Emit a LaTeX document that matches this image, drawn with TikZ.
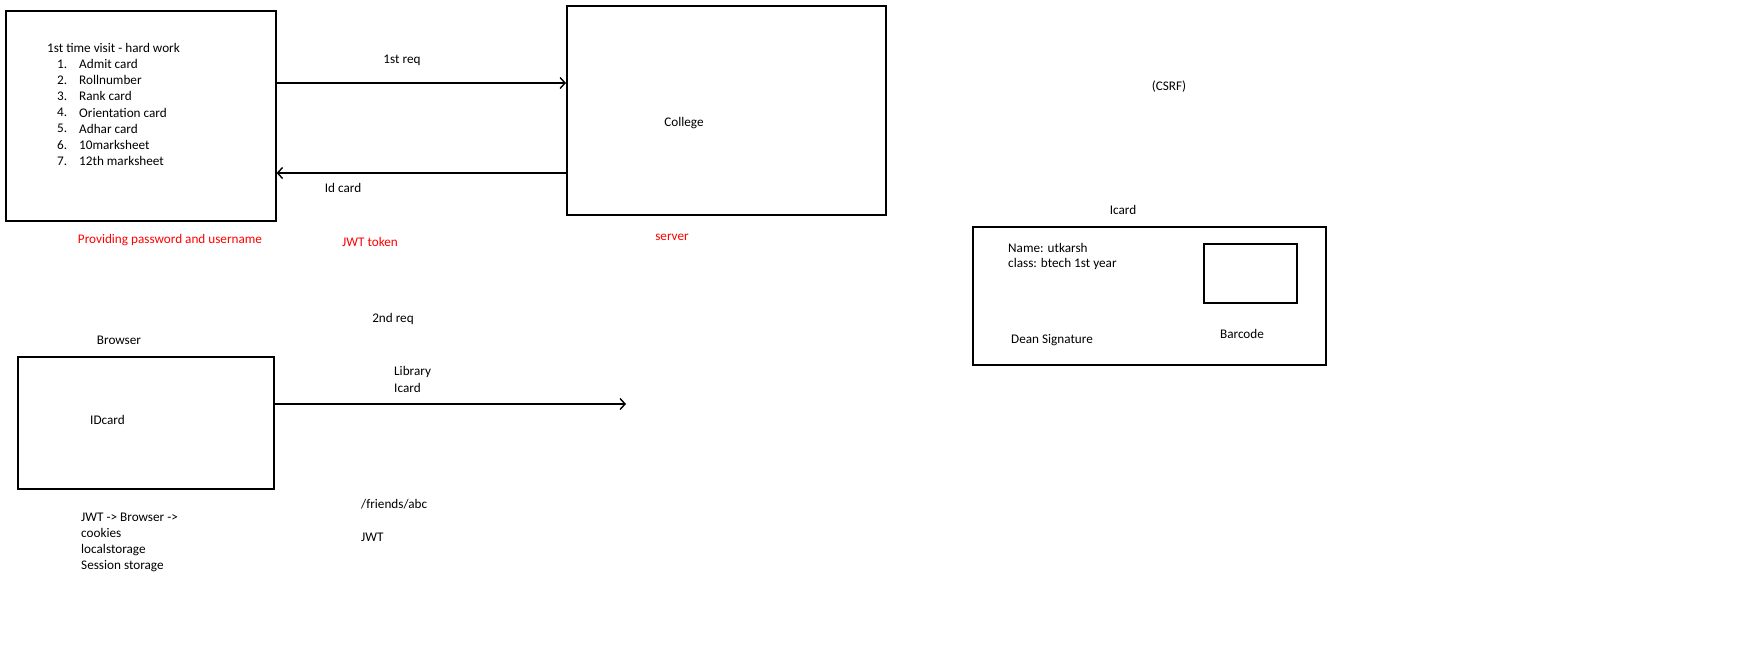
\documentclass[tikz,border=0pt]{standalone}
\usepackage{fontspec}
\setmainfont{Carlito}
\usetikzlibrary{arrows.meta}

\begin{document}
\begin{tikzpicture}[x=1pt, y=-1pt,
	box/.style={draw, line width=1.6pt, anchor=north west, inner sep=0pt},
	txt/.style={anchor=west, inner sep=0pt, font=\fontsize{13.2}{16}\selectfont},
	ctxt/.style={inner sep=0pt, font=\fontsize{13.2}{16}\selectfont},
	warn/.style={ctxt, text=red},
	arr/.style={line width=1.6pt, -{Straight Barb[length=5pt, width=11pt, line width=1.4pt]}}]
		\useasboundingbox (0,0) rectangle (1744,665);
		% boxes
		\node[box, minimum width=270pt, minimum height=210pt] (visit) at (5,10) {};
		\node[box, minimum width=319pt, minimum height=209pt] (college) at (566,5) {};
		\node[box, minimum width=256pt, minimum height=132pt] (browser) at (17,356) {};
		\node[box, minimum width=353pt, minimum height=138pt] (icard) at (972,226) {};
		\node[box, minimum width=93pt, minimum height=59pt] (barcode) at (1203,243) {};
		\coordinate (lib) at (626,404);
		% texts in the first box
		\node[txt] (visittitle) at (47,48) {1st time visit - hard work};
		\foreach \i/\t in {1/Admit card, 2/Rollnumber, 3/Rank card, 4/Orientation card, 5/Adhar card, 6/10marksheet, 7/12th marksheet} {
			\node[txt] (num\i) at (57,64+16.2*\i-16.2) {\i.};
			\node[txt] (doc\i) at (79,64+16.2*\i-16.2) {\t};
		}
		\node[ctxt] (collegetxt) at (684,123) {College};
		\node[txt] (idcardtxt) at (90,420) {IDcard};
		% connectors
		\draw[arr] (visit.east |- 0,83) -- (college.west |- 0,83);
		\draw[arr] (college.west |- 0,173) -- (visit.east |- 0,173);
		\draw[arr] (browser.east |- lib) -- (lib);
		\node[ctxt] (firstreq) at (402,60) {1st req};
		\node[ctxt] (idcard) at (343,188) {Id card};
		\node[ctxt] (secondreq) at (393,319) {2nd req};
		\node[txt] (library) at (394,372) {Library};
		\node[txt] (libicard) at (394,388) {Icard};
		% red notes
		\node[warn] (password) at (170,240) {Providing password and username};
		\node[warn] (jwttoken) at (370,242) {JWT token};
		\node[warn] (server) at (672,237) {server};
		% browser notes
		\node[ctxt] (browsertxt) at (119,340) {Browser};
		\node[txt] (jwtflow) at (81,517) {JWT -> Browser ->};
		\node[txt] (cookies) at (81,533) {cookies};
		\node[txt] (localst) at (81,550) {localstorage};
		\node[txt] (sessionst) at (81,566) {Session storage};
		\node[txt] (friends) at (361,504) {/friends/abc};
		\node[txt] (jwt) at (361,537) {JWT};
		% icard
		\node[ctxt] (csrf) at (1169,87) {(CSRF)};
		\node[ctxt] (icardtitle) at (1123,210) {Icard};
		\node[txt] (name) at (1008,248) {Name: utkarsh};
		\node[txt] (class) at (1008,264) {class: btech 1st year};
		\node[txt] (dean) at (1011,340) {Dean Signature};
		\node[ctxt] (barcodetxt) at (1242,334) {Barcode};
	\end{tikzpicture}
\end{document}
